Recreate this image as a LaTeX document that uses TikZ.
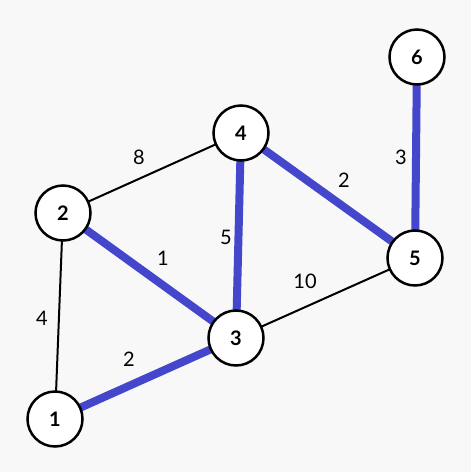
\documentclass[tikz,border=0pt]{standalone}
\usepackage{fontspec}
\setmainfont{Lato}
\definecolor{bg}{HTML}{F8F8F8}
\definecolor{mst}{HTML}{4446CC}
\begin{document}
\begin{tikzpicture}[x=1pt,y=-1pt,
  vert/.style={circle,draw=black,line width=2.5pt,fill=white,minimum size=55pt,inner sep=0pt,font=\fontsize{20}{22}\selectfont\bfseries},
  plain/.style={draw=black,line width=2pt},
  tree/.style={draw=mst,line width=8pt},
  wlab/.style={font=\fontsize{20}{22}\selectfont,inner sep=0pt}]
\fill[bg] (0,0) rectangle (471,472);
\useasboundingbox (0,0) rectangle (471,472);
\coordinate (p6) at (417,57);
\coordinate (p4) at (241,133);
\coordinate (p2) at (63,213);
\coordinate (p5) at (415,258);
\coordinate (p3) at (236,338);
\coordinate (p1) at (55,419);
\draw[plain] (p2) -- (p4);
\draw[plain] (p2) -- (p1);
\draw[plain] (p3) -- (p5);
\draw[tree] (p2) -- (p3);
\draw[tree] (p4) -- (p3);
\draw[tree] (p4) -- (p5);
\draw[tree] (p6) -- (p5);
\draw[tree] (p1) -- (p3);
\node[vert] (n6) at (p6) {6};
\node[vert] (n4) at (p4) {4};
\node[vert] (n2) at (p2) {2};
\node[vert] (n5) at (p5) {5};
\node[vert] (n3) at (p3) {3};
\node[vert] (n1) at (p1) {1};
\node[wlab] (w24) at (139,157) {8};
\node[wlab] (w65) at (401,157) {3};
\node[wlab] (w45) at (344,180) {2};
\node[wlab] (w23) at (163,258) {1};
\node[wlab] (w43) at (226,237) {5};
\node[wlab] (w35) at (305,281) {10};
\node[wlab] (w21) at (42,318) {4};
\node[wlab] (w13) at (129,359) {2};
\end{tikzpicture}
\end{document}
